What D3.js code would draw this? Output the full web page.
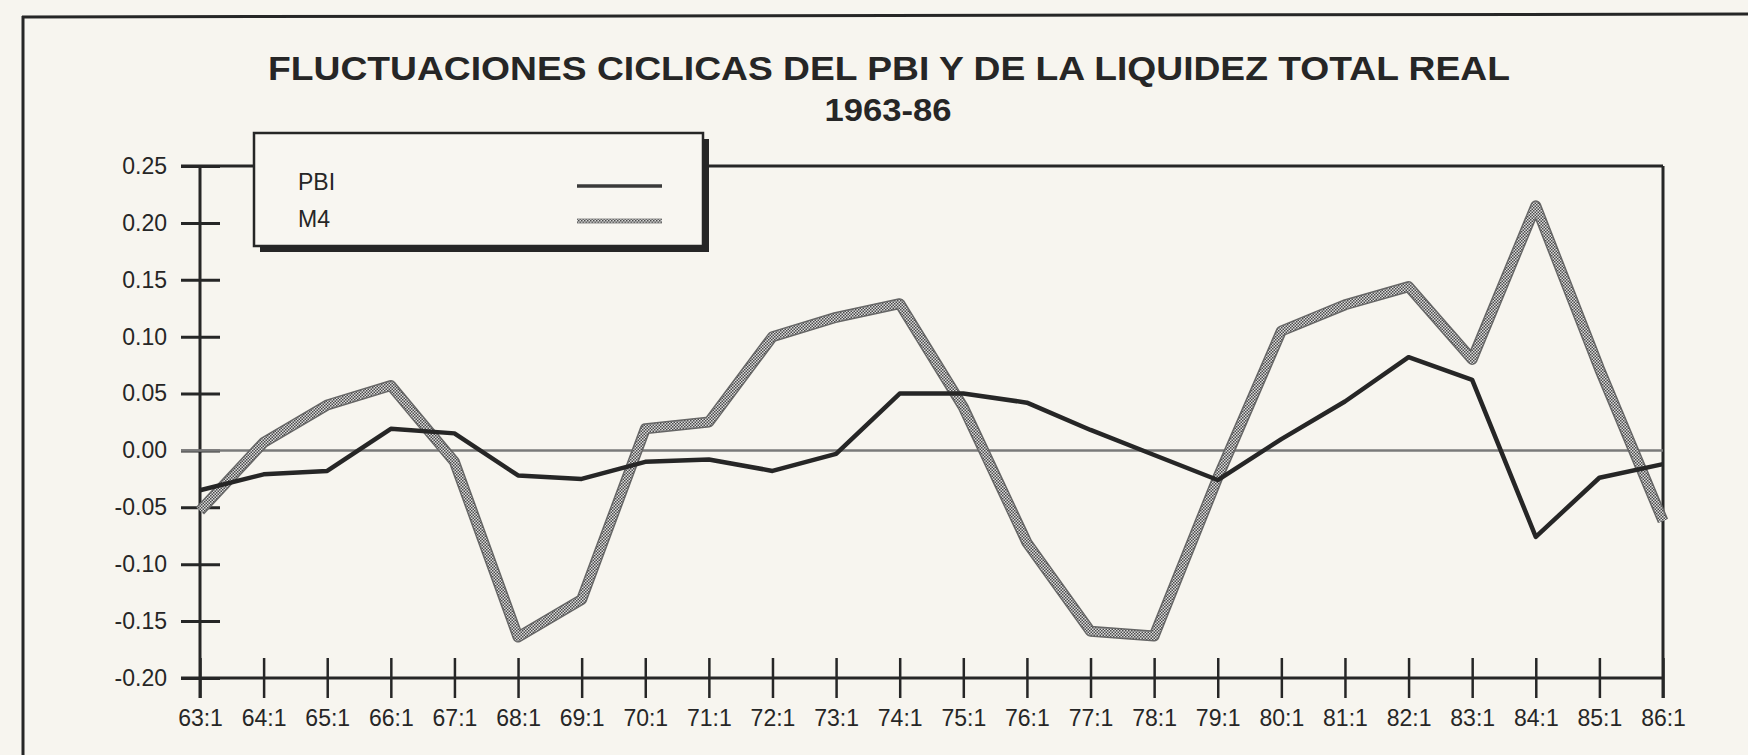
<!DOCTYPE html>
<html>
<head>
<meta charset="utf-8">
<script src="https://cdn.jsdelivr.net/npm/d3@7"></script>
<style>
  html, body { margin: 0; padding: 0; background: #f7f5ef; }
  svg { display: block; }
  .tick-label { font-family: "Liberation Sans", Arial, sans-serif; fill: #262626; }
  .x-label { font-family: "Liberation Sans Narrow", "Arial Narrow", "Liberation Sans", Arial, sans-serif; fill: #262626; }
</style>
</head>
<body>
<div id="chart"></div>
<script>
// Quarter labels on the x axis (one tick per year)
const periods = ['63:1', '64:1', '65:1', '66:1', '67:1', '68:1', '69:1', '70:1', '71:1', '72:1', '73:1', '74:1',
                 '75:1', '76:1', '77:1', '78:1', '79:1', '80:1', '81:1', '82:1', '83:1', '84:1', '85:1', '86:1'];

// Cyclical component of real GDP (PBI)
const pbi = [-0.035, -0.021, -0.018, 0.019, 0.015, -0.022, -0.025, -0.010, -0.008, -0.018, -0.003, 0.050,
             0.050, 0.042, 0.018, -0.004, -0.026, 0.010, 0.043, 0.082, 0.062, -0.076, -0.024, -0.012];

// Cyclical component of total real liquidity (M4)
const m4 = [-0.053, 0.007, 0.040, 0.057, -0.010, -0.164, -0.131, 0.019, 0.025, 0.100, 0.117, 0.129,
            0.038, -0.081, -0.159, -0.163, -0.024, 0.105, 0.128, 0.144, 0.080, 0.215, 0.072, -0.062];

const yTicks = [0.25, 0.20, 0.15, 0.10, 0.05, 0.00, -0.05, -0.10, -0.15, -0.20];
const legendItems = ['PBI', 'M4'];

const titleLines = ['FLUCTUACIONES CICLICAS DEL PBI Y DE LA LIQUIDEZ TOTAL REAL', '1963-86'];

const config = {
  width: 1748,
  height: 755,
  plot: { left: 200, right: 1663, top: 166, bottom: 678 },
  ink: '#262626'
};

const svg = d3.select('#chart').append('svg')
  .attr('width', config.width)
  .attr('height', config.height);

// halftone-ish pattern for the M4 line
const defs = svg.append('defs');
const pat = defs.append('pattern')
  .attr('id', 'checker')
  .attr('width', 3).attr('height', 3)
  .attr('patternUnits', 'userSpaceOnUse');
pat.append('rect').attr('width', 3).attr('height', 3).attr('fill', '#dcdcdc');
pat.append('rect').attr('width', 1.5).attr('height', 1.5).attr('fill', '#4a4a4a');
pat.append('rect').attr('x', 1.5).attr('y', 1.5).attr('width', 1.5).attr('height', 1.5).attr('fill', '#4a4a4a');

// outer page frame (top and left edges only)
svg.append('line')
  .attr('x1', 22).attr('y1', 17).attr('x2', config.width).attr('y2', 14)
  .attr('stroke', config.ink).attr('stroke-width', 3);
svg.append('line')
  .attr('x1', 23).attr('y1', 16).attr('x2', 23).attr('y2', config.height)
  .attr('stroke', config.ink).attr('stroke-width', 3);

// title
svg.append('text')
  .attr('x', 889).attr('y', 80)
  .attr('text-anchor', 'middle')
  .attr('textLength', 1242)
  .attr('lengthAdjust', 'spacingAndGlyphs')
  .style('font-family', '"Liberation Sans", Arial, sans-serif')
  .style('font-weight', 'bold')
  .style('font-size', '34px')
  .style('fill', config.ink)
  .text(titleLines[0]);
svg.append('text')
  .attr('x', 888).attr('y', 121)
  .attr('text-anchor', 'middle')
  .attr('textLength', 127)
  .attr('lengthAdjust', 'spacingAndGlyphs')
  .style('font-family', '"Liberation Sans", Arial, sans-serif')
  .style('font-weight', 'bold')
  .style('font-size', '31px')
  .style('fill', config.ink)
  .text(titleLines[1]);

const p = config.plot;
const x = d3.scalePoint().domain(periods).range([p.left, p.right]);
const y = d3.scaleLinear().domain([-0.20, 0.25]).range([p.bottom, p.top]);

const fmt = d3.formatLocale({ decimal: '.', thousands: ',', grouping: [3], currency: ['', ''], minus: '-' }).format('.2f');

// y axis, ticks crossing the axis line
const yAxis = svg.append('g')
  .attr('transform', `translate(${p.left},0)`)
  .call(d3.axisLeft(y).tickValues(yTicks).tickSize(18).tickPadding(14).tickFormat(fmt));
yAxis.select('.domain').remove();
yAxis.selectAll('.tick line')
  .attr('x1', -19).attr('x2', 20)
  .attr('stroke', config.ink).attr('stroke-width', 3);
yAxis.selectAll('.tick text')
  .attr('class', 'tick-label')
  .attr('x', -33)
  .style('font-size', '23px');

// x axis, ticks crossing the axis line
const xAxis = svg.append('g')
  .attr('transform', `translate(0,${p.bottom})`)
  .call(d3.axisBottom(x).tickSize(20).tickPadding(10));
xAxis.select('.domain').remove();
xAxis.selectAll('.tick line')
  .attr('y1', -20).attr('y2', 20)
  .attr('stroke', config.ink).attr('stroke-width', 2.5);
xAxis.selectAll('.tick text')
  .attr('class', 'x-label')
  .attr('y', 40)
  .attr('dy', '0.35em')
  .style('font-size', '23px');

// frame lines of the plot
const frame = svg.append('g').attr('stroke', config.ink).attr('stroke-width', 3);
frame.append('line').attr('x1', p.left - 19).attr('x2', p.right).attr('y1', y(0.25)).attr('y2', y(0.25));
frame.append('line').attr('x1', p.left - 19).attr('x2', p.right).attr('y1', y(-0.20)).attr('y2', y(-0.20));
frame.append('line').attr('x1', p.left).attr('x2', p.left).attr('y1', y(0.25)).attr('y2', y(-0.20) + 20);
frame.append('line').attr('x1', p.right).attr('x2', p.right).attr('y1', y(0.25)).attr('y2', y(-0.20) + 20);

// zero line
svg.append('line')
  .attr('x1', p.left - 19).attr('x2', p.right)
  .attr('y1', y(0)).attr('y2', y(0))
  .attr('stroke', '#7a7a7a').attr('stroke-width', 2.5);

const line = d3.line()
  .x((d, i) => x(periods[i]))
  .y(d => y(d));

// M4: thick patterned band with dark edges
svg.append('path')
  .datum(m4)
  .attr('d', line)
  .attr('fill', 'none')
  .attr('stroke', '#666')
  .attr('stroke-width', 11)
  .attr('stroke-linejoin', 'round');
svg.append('path')
  .datum(m4)
  .attr('d', line)
  .attr('fill', 'none')
  .attr('stroke', 'url(#checker)')
  .attr('stroke-width', 8)
  .attr('stroke-linejoin', 'round');

// PBI: solid dark line
svg.append('path')
  .datum(pbi)
  .attr('d', line)
  .attr('fill', 'none')
  .attr('stroke', config.ink)
  .attr('stroke-width', 4.5)
  .attr('stroke-linejoin', 'round');

// legend box with drop shadow
const legend = svg.append('g').attr('transform', 'translate(254,133)');
legend.append('rect')
  .attr('x', 6).attr('y', 6).attr('width', 449).attr('height', 113)
  .attr('fill', config.ink);
legend.append('rect')
  .attr('width', 449).attr('height', 113)
  .attr('fill', '#f8f6f1')
  .attr('stroke', config.ink).attr('stroke-width', 2.5);

legend.selectAll('.legend-label')
  .data(legendItems)
  .join('text')
  .attr('class', 'legend-label tick-label')
  .attr('x', 44)
  .attr('y', (d, i) => 57 + i * 37)
  .style('font-size', '23px')
  .text(d => d);

legend.append('line')
  .attr('x1', 323).attr('x2', 408).attr('y1', 53).attr('y2', 53)
  .attr('stroke', '#3a3a3a').attr('stroke-width', 3.5);
legend.append('line')
  .attr('x1', 323).attr('x2', 408).attr('y1', 88).attr('y2', 88)
  .attr('stroke', '#8a8a8a').attr('stroke-width', 5);
legend.append('line')
  .attr('x1', 323).attr('x2', 408).attr('y1', 88).attr('y2', 88)
  .attr('stroke', 'url(#checker)').attr('stroke-width', 3);
</script>
</body>
</html>
